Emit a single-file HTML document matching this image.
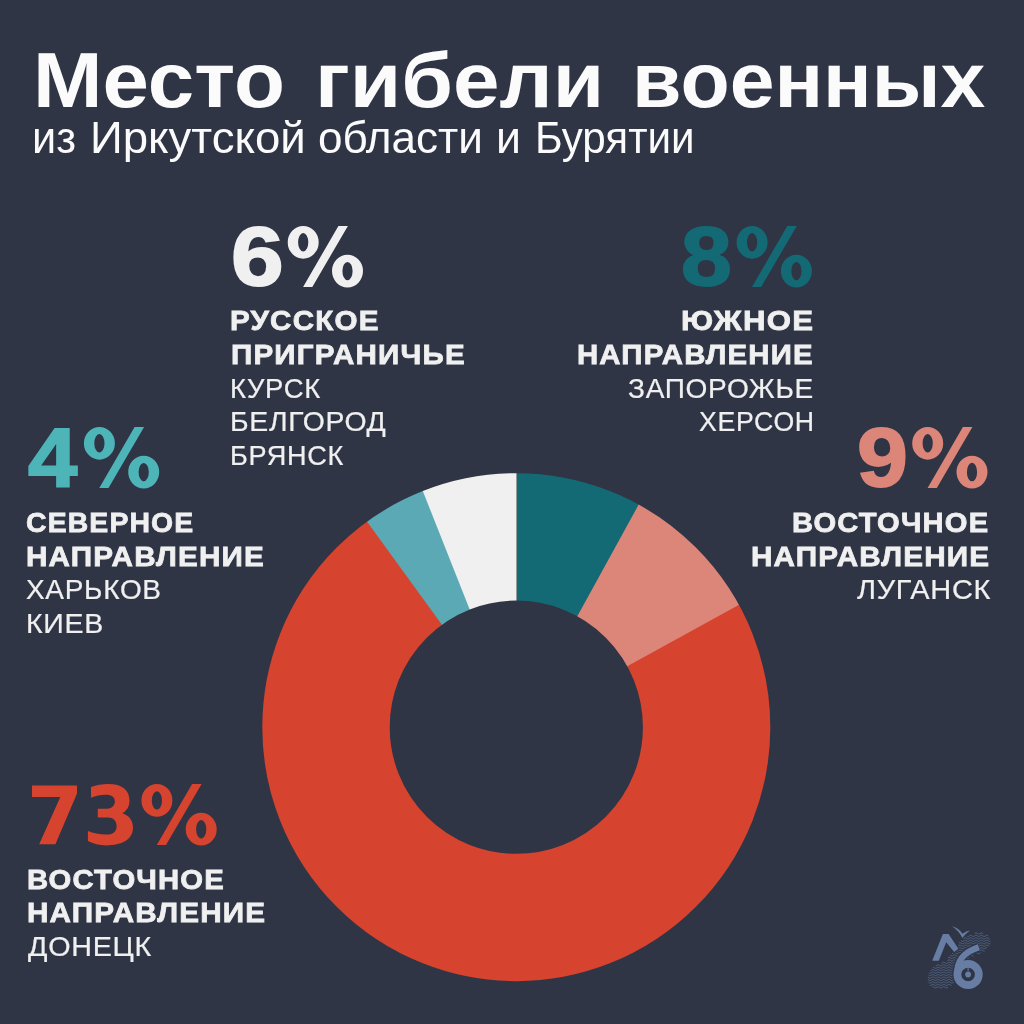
<!DOCTYPE html>
<html lang="ru"><head><meta charset="utf-8"><title>Место гибели военных</title>
<style>
html,body{margin:0;padding:0}
body{width:1024px;height:1024px;background:#2f3545;position:relative;overflow:hidden;font-family:"Liberation Sans",sans-serif}
.t{position:absolute;white-space:nowrap;line-height:1;transform-origin:0 0;font-family:"Liberation Sans",sans-serif}
.b{font-weight:700}.r{font-weight:400}
svg{position:absolute;left:0;top:0}
#txt{position:absolute;left:0;top:0;width:1024px;height:1024px;will-change:transform}
</style></head><body>
<svg width="1024" height="1024" viewBox="0 0 1024 1024">
<defs><mask id="ring" maskUnits="userSpaceOnUse" x="0" y="0" width="1024" height="1024"><circle cx="516.3" cy="727.2" r="190.3" fill="none" stroke="#fff" stroke-width="127.4"/></mask></defs>
<g mask="url(#ring)">
<circle cx="516.3" cy="727.2" r="260.0" fill="#136a75"/>
<path d="M516.3 727.2L641.56 499.36A260.0 260.0 0 1 1 516.30 467.20Z" fill="#dc8579"/>
<path d="M516.3 727.2L744.14 601.94A260.0 260.0 0 1 1 516.30 467.20Z" fill="#d6432e"/>
<path d="M516.3 727.2L363.48 516.86A260.0 260.0 0 0 1 516.30 467.20Z" fill="#5ba9b5"/>
<path d="M516.3 727.2L420.59 485.46A260.0 260.0 0 0 1 516.30 467.20Z" fill="#f0f0f0"/>
</g>
<path aria-label="7" d="M32 785.6H77V793.6L55.4 844.3H39.2L60.3 796.9H32Z" fill="#d6432e"/>
<path aria-label="3" d="M91 787.1C96 785 102 783.95 108.4 783.95C122 783.95 129.5 790 129.5 800.6C129.5 807 126.5 811 122.4 813.3C129 815.5 133 820.5 133 827.6C133 839 123 845.4 106 845.4C99.5 845.4 93 843.5 87.9 841L87.9 831.1C93 833.3 99.5 834.6 106 834.6C113 834.6 116.6 831.5 116.6 826.4C116.6 820.8 113 817.6 108.4 817.6L97.8 817.6L97.8 808.8L106 808.8C111.5 808.8 114.8 806 114.8 801.2C114.8 797 111.5 794.75 106 794.75C100.5 794.75 95.5 796 91 797.7Z" fill="#d6432e"/>
<path aria-label="%" d="M287.70 242.30A15.5 16.35 0 1 1 318.70 242.30A15.5 16.35 0 1 1 287.70 242.30ZM298.10 242.30A5.1 9.2 0 1 0 308.30 242.30A5.1 9.2 0 1 0 298.10 242.30ZM332.00 271.10A15.5 16.35 0 1 1 363.00 271.10A15.5 16.35 0 1 1 332.00 271.10ZM342.40 271.10A5.1 9.2 0 1 0 352.60 271.10A5.1 9.2 0 1 0 342.40 271.10ZM303.10 286.90L312.30 286.90L347.90 226.00L338.40 226.00Z" fill="#f0f0f0" fill-rule="evenodd"/>
<path aria-label="%" d="M736.60 242.30A15.5 16.35 0 1 1 767.60 242.30A15.5 16.35 0 1 1 736.60 242.30ZM747.00 242.30A5.1 9.2 0 1 0 757.20 242.30A5.1 9.2 0 1 0 747.00 242.30ZM780.90 271.10A15.5 16.35 0 1 1 811.90 271.10A15.5 16.35 0 1 1 780.90 271.10ZM791.30 271.10A5.1 9.2 0 1 0 801.50 271.10A5.1 9.2 0 1 0 791.30 271.10ZM752.00 286.90L761.20 286.90L796.80 226.00L787.30 226.00Z" fill="#136a75" fill-rule="evenodd"/>
<path aria-label="%" d="M83.90 443.30A15.5 16.35 0 1 1 114.90 443.30A15.5 16.35 0 1 1 83.90 443.30ZM94.30 443.30A5.1 9.2 0 1 0 104.50 443.30A5.1 9.2 0 1 0 94.30 443.30ZM128.20 472.10A15.5 16.35 0 1 1 159.20 472.10A15.5 16.35 0 1 1 128.20 472.10ZM138.60 472.10A5.1 9.2 0 1 0 148.80 472.10A5.1 9.2 0 1 0 138.60 472.10ZM99.30 487.90L108.50 487.90L144.10 427.00L134.60 427.00Z" fill="#4db4b8" fill-rule="evenodd"/>
<path aria-label="%" d="M912.20 443.30A15.5 16.35 0 1 1 943.20 443.30A15.5 16.35 0 1 1 912.20 443.30ZM922.60 443.30A5.1 9.2 0 1 0 932.80 443.30A5.1 9.2 0 1 0 922.60 443.30ZM956.50 472.10A15.5 16.35 0 1 1 987.50 472.10A15.5 16.35 0 1 1 956.50 472.10ZM966.90 472.10A5.1 9.2 0 1 0 977.10 472.10A5.1 9.2 0 1 0 966.90 472.10ZM927.60 487.90L936.80 487.90L972.40 427.00L962.90 427.00Z" fill="#dc8579" fill-rule="evenodd"/>
<path aria-label="%" d="M141.40 800.40A15.5 16.35 0 1 1 172.40 800.40A15.5 16.35 0 1 1 141.40 800.40ZM151.80 800.40A5.1 9.2 0 1 0 162.00 800.40A5.1 9.2 0 1 0 151.80 800.40ZM185.70 829.20A15.5 16.35 0 1 1 216.70 829.20A15.5 16.35 0 1 1 185.70 829.20ZM196.10 829.20A5.1 9.2 0 1 0 206.30 829.20A5.1 9.2 0 1 0 196.10 829.20ZM156.80 845.00L166.00 845.00L201.60 784.10L192.10 784.10Z" fill="#d6432e" fill-rule="evenodd"/>
<g id="logo">
<path d="M975.0 933.2L975.7 932.9L976.3 932.9L977.0 933.2L977.6 933.6L978.3 934.0L978.9 934.0L979.6 933.8L980.2 933.3L980.9 933.0L981.5 932.9L982.2 933.1L982.8 933.5M967.9 936.5L968.5 936.4L969.2 936.0L969.8 935.5L970.5 935.3L971.1 935.4L971.8 935.8L972.4 936.2L973.1 936.5L973.7 936.4L974.4 936.1L975.0 935.7L975.7 935.3L976.3 935.3L977.0 935.6L977.6 936.1L978.3 936.4L978.9 936.5L979.6 936.2L980.2 935.8L980.9 935.4L981.5 935.3L982.2 935.5L982.8 935.9L983.5 936.3L984.1 936.5L984.8 936.3L985.4 935.9L986.1 935.5L986.7 935.3L987.4 935.4L988.0 935.8M964.0 938.3L964.6 937.9L965.3 937.8L965.9 937.9L966.6 938.3L967.2 938.8L967.9 938.9L968.5 938.8L969.2 938.4L969.8 938.0L970.5 937.8L971.1 937.8L971.8 938.2L972.4 938.6L973.1 938.9L973.7 938.9L974.4 938.6L975.0 938.1L975.7 937.8L976.3 937.8L977.0 938.1L977.6 938.5L978.3 938.9L978.9 938.9L979.6 938.7L980.2 938.2L980.9 937.9L981.5 937.8L982.2 938.0L982.8 938.4L983.5 938.8L984.1 939.0L984.8 938.8L985.4 938.4L986.1 938.0L986.7 937.8L987.4 937.9L988.0 938.2L988.7 938.7L989.3 938.9M961.4 940.9L962.0 941.3L962.7 941.4L963.3 941.2L964.0 940.7L964.6 940.3L965.3 940.2L965.9 940.4L966.6 940.8L967.2 941.2L967.9 941.4L968.5 941.3L969.2 940.9L969.8 940.4L970.5 940.2L971.1 940.3L971.8 940.7L972.4 941.1L973.1 941.4L973.7 941.3L974.4 941.0L975.0 940.6L975.7 940.2L976.3 940.2L977.0 940.5L977.6 941.0L978.3 941.3L978.9 941.4L979.6 941.1L980.2 940.7L980.9 940.3L981.5 940.2L982.2 940.4L982.8 940.8L983.5 941.2L984.1 941.4L984.8 941.2L985.4 940.8L986.1 940.4L986.7 940.2L987.4 940.3L988.0 940.7L988.7 941.1L989.3 941.4L990.0 941.3M959.4 942.7L960.1 942.7L960.7 942.9L961.4 943.4L962.0 943.8L962.7 943.8L963.3 943.6L964.0 943.2L964.6 942.8L965.3 942.7L965.9 942.8L966.6 943.2L967.2 943.7L967.9 943.8L968.5 943.7L969.2 943.3L969.8 942.9L970.5 942.7L971.1 942.7L971.8 943.1L972.4 943.5L973.1 943.8L973.7 943.8L974.4 943.5L975.0 943.0L975.7 942.7L976.3 942.7L977.0 943.0L977.6 943.4L978.3 943.8L978.9 943.8L979.6 943.6L980.2 943.1L980.9 942.8L981.5 942.7L982.2 942.9L982.8 943.3L983.5 943.7L984.1 943.9L984.8 943.7L985.4 943.3L986.1 942.9L986.7 942.7L987.4 942.8L988.0 943.1L988.7 943.6L989.3 943.8L990.0 943.8M958.1 945.9L958.8 945.5L959.4 945.2L960.1 945.1L960.7 945.4L961.4 945.8L962.0 946.2L962.7 946.3L963.3 946.1L964.0 945.6L964.6 945.2L965.3 945.1L965.9 945.3L966.6 945.7L967.2 946.1L967.9 946.3L968.5 946.2L969.2 945.8L969.8 945.3L970.5 945.1L971.1 945.2L971.8 945.6L972.4 946.0L973.1 946.3L973.7 946.2L974.4 945.9L975.0 945.5L975.7 945.1L976.3 945.1L977.0 945.4L977.6 945.9L978.3 946.2L978.9 946.3L979.6 946.0L980.2 945.6L980.9 945.2L981.5 945.1L982.2 945.3L982.8 945.7L983.5 946.1L984.1 946.3L984.8 946.1L985.4 945.7L986.1 945.3L986.7 945.1L987.4 945.2L988.0 945.6L988.7 946.0M958.1 948.4L958.8 947.9L959.4 947.6L960.1 947.6L960.7 947.8L961.4 948.3L962.0 948.7L962.7 948.7L963.3 948.5L964.0 948.1L964.6 947.7L965.3 947.6L965.9 947.7L966.6 948.1L967.2 948.6L967.9 948.7L968.5 948.6L969.2 948.2L969.8 947.8L970.5 947.6L971.1 947.6L971.8 948.0L972.4 948.4L973.1 948.7L973.7 948.7L974.4 948.4L975.0 947.9L975.7 947.6L976.3 947.6L977.0 947.9L977.6 948.3L978.3 948.7L978.9 948.7L979.6 948.5L980.2 948.0L980.9 947.7L981.5 947.6L982.2 947.8L982.8 948.2L983.5 948.6L984.1 948.8L984.8 948.6L985.4 948.2L986.1 947.8L986.7 947.6M955.5 950.4L956.2 950.9L956.8 951.2L957.5 951.2L958.1 950.8L958.8 950.4L959.4 950.1L960.1 950.0L960.7 950.3L961.4 950.7L962.0 951.1L962.7 951.2L963.3 951.0L964.0 950.5L964.6 950.1L965.3 950.0L965.9 950.2L966.6 950.6L967.2 951.0L967.9 951.2L968.5 951.1L969.2 950.7L969.8 950.2L970.5 950.0L971.1 950.1L971.8 950.5L972.4 950.9L973.1 951.2L973.7 951.1L974.4 950.8L975.0 950.4L975.7 950.0L976.3 950.0L977.0 950.3L977.6 950.8L978.3 951.1L978.9 951.2L979.6 950.9L980.2 950.5L980.9 950.1L981.5 950.0L982.2 950.2L982.8 950.6L983.5 951.0L984.1 951.2M952.3 953.5L952.9 953.2L953.6 952.7L954.2 952.5L954.9 952.5L955.5 952.9L956.2 953.3L956.8 953.6L957.5 953.6L958.1 953.3L958.8 952.8L959.4 952.5L960.1 952.5L960.7 952.7L961.4 953.2L962.0 953.6L962.7 953.6L963.3 953.4L964.0 953.0L964.6 952.6L965.3 952.5L965.9 952.6L966.6 953.0L967.2 953.5L967.9 953.6L968.5 953.5L969.2 953.1L969.8 952.7L970.5 952.5L971.1 952.5L971.8 952.9L972.4 953.3L973.1 953.6L973.7 953.6L974.4 953.3L975.0 952.8L975.7 952.5L976.3 952.5L977.0 952.8L977.6 953.2L978.3 953.6L978.9 953.6L979.6 953.4L980.2 952.9M950.3 955.5L951.0 955.9L951.6 956.1L952.3 956.0L952.9 955.6L953.6 955.2L954.2 954.9L954.9 955.0L955.5 955.3L956.2 955.8L956.8 956.1L957.5 956.1L958.1 955.7L958.8 955.3L959.4 955.0L960.1 954.9L960.7 955.2L961.4 955.6L962.0 956.0L962.7 956.1L963.3 955.9L964.0 955.4L964.6 955.0L965.3 954.9L965.9 955.1L966.6 955.5L967.2 955.9L967.9 956.1L968.5 956.0L969.2 955.6L969.8 955.1L970.5 954.9L971.1 955.0L971.8 955.4L972.4 955.8L973.1 956.1M948.4 957.5L949.0 957.4L949.7 957.5L950.3 957.9L951.0 958.3L951.6 958.5L952.3 958.4L952.9 958.1L953.6 957.6L954.2 957.4L954.9 957.4L955.5 957.8L956.2 958.2L956.8 958.5L957.5 958.5L958.1 958.2L958.8 957.7L959.4 957.4L960.1 957.4L960.7 957.6L961.4 958.1L962.0 958.5L962.7 958.5L963.3 958.3L964.0 957.9L964.6 957.5L965.3 957.4L965.9 957.5L966.6 957.9L967.2 958.4L967.9 958.5L968.5 958.4L969.2 958.0M947.7 960.4L948.4 960.0L949.0 959.8L949.7 960.0L950.3 960.4L951.0 960.8L951.6 961.0L952.3 960.9L952.9 960.5L953.6 960.1L954.2 959.8L954.9 959.9L955.5 960.2L956.2 960.7L956.8 961.0L957.5 961.0L958.1 960.6L958.8 960.2L959.4 959.9L960.1 959.8L960.7 960.1L961.4 960.5L962.0 960.9L962.7 961.0L963.3 960.8L964.0 960.3L964.6 959.9L965.3 959.8L965.9 960.0L966.6 960.4L967.2 960.8L967.9 961.0M941.9 963.1L942.5 962.7L943.2 962.3L943.8 962.3L944.5 962.5L945.1 963.0L945.8 963.3L946.4 963.4L947.1 963.2L947.7 962.8L948.4 962.4L949.0 962.3L949.7 962.4L950.3 962.8L951.0 963.2L951.6 963.4L952.3 963.3L952.9 963.0L953.6 962.5L954.2 962.3L954.9 962.3L955.5 962.7L956.2 963.1L956.8 963.4L957.5 963.4L958.1 963.1L958.8 962.6L959.4 962.3L960.1 962.3L960.7 962.5L961.4 963.0L962.0 963.4L962.7 963.4L963.3 963.2L964.0 962.8L964.6 962.4L965.3 962.3L965.9 962.4L966.6 962.8M936.0 965.8L936.7 965.4L937.3 965.0L938.0 964.7L938.6 964.8L939.3 965.1L939.9 965.5L940.6 965.9L941.2 965.9L941.9 965.6L942.5 965.1L943.2 964.8L943.8 964.7L944.5 965.0L945.1 965.4L945.8 965.8L946.4 965.9L947.1 965.7L947.7 965.3L948.4 964.9L949.0 964.7L949.7 964.9L950.3 965.3L951.0 965.7L951.6 965.9L952.3 965.8L952.9 965.4L953.6 965.0L954.2 964.7L954.9 964.8L955.5 965.1L956.2 965.6L956.8 965.9L957.5 965.9L958.1 965.5L958.8 965.1L959.4 964.8L960.1 964.7L960.7 965.0L961.4 965.4L962.0 965.8L962.7 965.9L963.3 965.7L964.0 965.2L964.6 964.8L965.3 964.7M933.4 967.3L934.1 967.7L934.7 968.1L935.4 968.3L936.0 968.3L936.7 967.9L937.3 967.5L938.0 967.2L938.6 967.2L939.3 967.5L939.9 968.0L940.6 968.3L941.2 968.3L941.9 968.0L942.5 967.6L943.2 967.2L943.8 967.2L944.5 967.4L945.1 967.9L945.8 968.2L946.4 968.3L947.1 968.1L947.7 967.7L948.4 967.3L949.0 967.2L949.7 967.3L950.3 967.7L951.0 968.1L951.6 968.3L952.3 968.2L952.9 967.9L953.6 967.4L954.2 967.2L954.9 967.2L955.5 967.6L956.2 968.0L956.8 968.3L957.5 968.3L958.1 968.0L958.8 967.5L959.4 967.2L960.1 967.2L960.7 967.4L961.4 967.9L962.0 968.3L962.7 968.3M930.8 970.6L931.5 970.2L932.1 969.8L932.8 969.6L933.4 969.7L934.1 970.1L934.7 970.6L935.4 970.8L936.0 970.7L936.7 970.3L937.3 969.9L938.0 969.6L938.6 969.7L939.3 970.0L939.9 970.4L940.6 970.8L941.2 970.8L941.9 970.5L942.5 970.0L943.2 969.7L943.8 969.6L944.5 969.9L945.1 970.3L945.8 970.7L946.4 970.8L947.1 970.6L947.7 970.2L948.4 969.8L949.0 969.6L949.7 969.8L950.3 970.2L951.0 970.6L951.6 970.8L952.3 970.7L952.9 970.3L953.6 969.9L954.2 969.6L954.9 969.7L955.5 970.0L956.2 970.5L956.8 970.8L957.5 970.8L958.1 970.4L958.8 970.0M929.5 973.1L930.2 973.2L930.8 973.1L931.5 972.7L932.1 972.2L932.8 972.1L933.4 972.2L934.1 972.6L934.7 973.0L935.4 973.2L936.0 973.2L936.7 972.8L937.3 972.4L938.0 972.1L938.6 972.1L939.3 972.4L939.9 972.9L940.6 973.2L941.2 973.2L941.9 972.9L942.5 972.5L943.2 972.1L943.8 972.1L944.5 972.3L945.1 972.8L945.8 973.1L946.4 973.2L947.1 973.0L947.7 972.6L948.4 972.2L949.0 972.1L949.7 972.2L950.3 972.6L951.0 973.0L951.6 973.2L952.3 973.1L952.9 972.8L953.6 972.3L954.2 972.1L954.9 972.1L955.5 972.5L956.2 972.9L956.8 973.2M928.9 975.2L929.5 975.6L930.2 975.7L930.8 975.5L931.5 975.1L932.1 974.7L932.8 974.5L933.4 974.6L934.1 975.0L934.7 975.5L935.4 975.7L936.0 975.6L936.7 975.2L937.3 974.8L938.0 974.5L938.6 974.6L939.3 974.9L939.9 975.3L940.6 975.7L941.2 975.7L941.9 975.4L942.5 974.9L943.2 974.6L943.8 974.5L944.5 974.8L945.1 975.2L945.8 975.6L946.4 975.7L947.1 975.5L947.7 975.1L948.4 974.7L949.0 974.5L949.7 974.7L950.3 975.1L951.0 975.5L951.6 975.7L952.3 975.6L952.9 975.2L953.6 974.8L954.2 974.5L954.9 974.6L955.5 974.9L956.2 975.4L956.8 975.7M928.2 977.2L928.9 977.6L929.5 978.0L930.2 978.1L930.8 978.0L931.5 977.6L932.1 977.1L932.8 977.0L933.4 977.1L934.1 977.5L934.7 977.9L935.4 978.1L936.0 978.1L936.7 977.7L937.3 977.3L938.0 977.0L938.6 977.0L939.3 977.3L939.9 977.8L940.6 978.1L941.2 978.1L941.9 977.8L942.5 977.4L943.2 977.0L943.8 977.0L944.5 977.2L945.1 977.7L945.8 978.0L946.4 978.1L947.1 977.9L947.7 977.5L948.4 977.1L949.0 977.0L949.7 977.1L950.3 977.5L951.0 977.9L951.6 978.1L952.3 978.0L952.9 977.7L953.6 977.2L954.2 977.0L954.9 977.0L955.5 977.4L956.2 977.8M928.2 979.6L928.9 980.1L929.5 980.5L930.2 980.6L930.8 980.4L931.5 980.0L932.1 979.6L932.8 979.4L933.4 979.5L934.1 979.9L934.7 980.4L935.4 980.6L936.0 980.5L936.7 980.1L937.3 979.7L938.0 979.4L938.6 979.5L939.3 979.8L939.9 980.2L940.6 980.6L941.2 980.6L941.9 980.3L942.5 979.8L943.2 979.5L943.8 979.4L944.5 979.7L945.1 980.1L945.8 980.5L946.4 980.6L947.1 980.4L947.7 980.0L948.4 979.6L949.0 979.4L949.7 979.6L950.3 980.0L951.0 980.4L951.6 980.6L952.3 980.5L952.9 980.1L953.6 979.7L954.2 979.4L954.9 979.5M928.9 982.5L929.5 982.9L930.2 983.0L930.8 982.9L931.5 982.5L932.1 982.0L932.8 981.9L933.4 982.0L934.1 982.4L934.7 982.8L935.4 983.0L936.0 983.0L936.7 982.6L937.3 982.2L938.0 981.9L938.6 981.9L939.3 982.2L939.9 982.7L940.6 983.0L941.2 983.0L941.9 982.7L942.5 982.3L943.2 981.9L943.8 981.9L944.5 982.1L945.1 982.6L945.8 982.9L946.4 983.0L947.1 982.8L947.7 982.4L948.4 982.0L949.0 981.9L949.7 982.0L950.3 982.4L951.0 982.8L951.6 983.0L952.3 982.9L952.9 982.6L953.6 982.1M930.2 985.5L930.8 985.3L931.5 984.9L932.1 984.5L932.8 984.3L933.4 984.4L934.1 984.8L934.7 985.3L935.4 985.5L936.0 985.4L936.7 985.0L937.3 984.6L938.0 984.3L938.6 984.4L939.3 984.7L939.9 985.1L940.6 985.5L941.2 985.5L941.9 985.2L942.5 984.7L943.2 984.4L943.8 984.3L944.5 984.6L945.1 985.0L945.8 985.4L946.4 985.5L947.1 985.3L947.7 984.9L948.4 984.5L949.0 984.3L949.7 984.5L950.3 984.9L951.0 985.3M932.8 986.8L933.4 986.9L934.1 987.3L934.7 987.7L935.4 987.9L936.0 987.9L936.7 987.5L937.3 987.1L938.0 986.8L938.6 986.8L939.3 987.1L939.9 987.6L940.6 987.9L941.2 987.9L941.9 987.6L942.5 987.2L943.2 986.8L943.8 986.8L944.5 987.0L945.1 987.5L945.8 987.8L946.4 987.9L947.1 987.7L947.7 987.3" fill="none" stroke="#566888" stroke-width="0.9" stroke-linecap="round" stroke-linejoin="round"/>
<path d="M932.2 960.7L942.9 933.9L948.6 933.9L958.4 948.8L954.2 952L946.2 942.2L938.8 960.7Z" fill="#2f3545" stroke="#2f3545" stroke-width="2.4" stroke-linejoin="round"/>
<path d="M957.3 975C956.6 962 962 952.5 978.8 947.2" fill="none" stroke="#2f3545" stroke-width="9"/>
<circle cx="968.1" cy="974.5" r="10.7" fill="#2f3545" stroke="#2f3545" stroke-width="10.2"/>
<path d="M932.2 960.7L942.9 933.9L948.6 933.9L958.4 948.8L954.2 952L946.2 942.2L938.8 960.7Z" fill="#687da4"/>
<path d="M957.3 975C956.6 962 962 952.5 978.8 947.2" fill="none" stroke="#687da4" stroke-width="6.4"/>
<circle cx="968.1" cy="974.5" r="10.7" fill="none" stroke="#687da4" stroke-width="7.8"/>
<circle cx="968.1" cy="974.5" r="2.9" fill="#687da4"/>
<path d="M968.1 967.7v3.5" stroke="#687da4" stroke-width="1" fill="none"/>
<path d="M952 926.2C957 927.6 960.4 930.6 962.6 933.8C964.6 932 967 930.8 970.2 930.4C967.2 932.4 964.8 934.8 962.4 938C960 933 956.8 929.4 952 926.2Z" fill="#687da4"/>
</g>
</svg>
<div id="txt">
<div class="t b" style="left:33.33px;top:41.37px;font-size:78.26px;color:#fbfbfc;transform:scaleX(1.0663)">Место</div>
<div class="t b" style="left:314.64px;top:41.37px;font-size:78.26px;color:#fbfbfc;transform:scaleX(1.0696)">гибели</div>
<div class="t b" style="left:632.11px;top:41.37px;font-size:78.26px;color:#fbfbfc;transform:scaleX(1.0292)">военных</div>
<div class="t r" style="left:32.47px;top:114.79px;font-size:45.22px;color:#fbfbfc;transform:scaleX(0.9575)">из</div>
<div class="t r" style="left:90.35px;top:114.79px;font-size:45.22px;color:#fbfbfc;transform:scaleX(1.0081)">Иркутской</div>
<div class="t r" style="left:318.24px;top:114.79px;font-size:45.22px;color:#fbfbfc;transform:scaleX(0.9748)">области</div>
<div class="t r" style="left:496.12px;top:114.79px;font-size:45.22px;color:#fbfbfc;transform:scaleX(0.9873)">и</div>
<div class="t r" style="left:534.63px;top:114.79px;font-size:45.22px;color:#fbfbfc;transform:scaleX(0.9324)">Бурятии</div>
<div class="t b" style="left:230.83px;top:213.65px;font-size:84.15px;color:#f0f0f0;transform:scaleX(1.1248);-webkit-text-stroke:0.022em #f0f0f0">6</div>
<div class="t b" style="left:229.87px;top:307.46px;font-size:27.08px;color:#f0f0f0;transform:scaleX(1.0924);-webkit-text-stroke:0.028em #f0f0f0;letter-spacing:0.04em">РУССКОЕ</div>
<div class="t b" style="left:230.87px;top:341.11px;font-size:27.08px;color:#f0f0f0;transform:scaleX(1.0919);-webkit-text-stroke:0.028em #f0f0f0;letter-spacing:0.04em">ПРИГРАНИЧЬЕ</div>
<div class="t r" style="left:229.81px;top:374.82px;font-size:27.86px;color:#f0f0f0;transform:scaleX(0.9841);-webkit-text-stroke:0.008em #f0f0f0;letter-spacing:0.025em">КУРСК</div>
<div class="t r" style="left:229.73px;top:408.32px;font-size:27.86px;color:#f0f0f0;transform:scaleX(1.0171);-webkit-text-stroke:0.008em #f0f0f0;letter-spacing:0.025em">БЕЛГОРОД</div>
<div class="t r" style="left:229.83px;top:441.82px;font-size:27.86px;color:#f0f0f0;transform:scaleX(0.973);-webkit-text-stroke:0.008em #f0f0f0;letter-spacing:0.025em">БРЯНСК</div>
<div class="t b" style="left:681.17px;top:213.65px;font-size:84.15px;color:#136a75;transform:scaleX(1.0845);-webkit-text-stroke:0.022em #136a75">8</div>
<div class="t b" style="left:680.79px;top:307.46px;font-size:27.08px;color:#f0f0f0;transform:scaleX(1.1508);-webkit-text-stroke:0.028em #f0f0f0;letter-spacing:0.04em">ЮЖНОЕ</div>
<div class="t b" style="left:577.14px;top:341.11px;font-size:27.08px;color:#f0f0f0;transform:scaleX(1.084);-webkit-text-stroke:0.028em #f0f0f0;letter-spacing:0.04em">НАПРАВЛЕНИЕ</div>
<div class="t r" style="left:627.91px;top:374.82px;font-size:27.86px;color:#f0f0f0;transform:scaleX(1.0066);-webkit-text-stroke:0.008em #f0f0f0;letter-spacing:0.025em">ЗАПОРОЖЬЕ</div>
<div class="t r" style="left:699.1px;top:408.32px;font-size:27.86px;color:#f0f0f0;transform:scaleX(0.957);-webkit-text-stroke:0.008em #f0f0f0;letter-spacing:0.025em">ХЕРСОН</div>
<div class="t b" style="left:27.56px;top:415.55px;font-size:84.15px;color:#4db4b8;transform:scaleX(1.0545);-webkit-text-stroke:0.022em #4db4b8">4</div>
<div class="t b" style="left:25.79px;top:509.11px;font-size:27.08px;color:#f0f0f0;transform:scaleX(1.0479);-webkit-text-stroke:0.028em #f0f0f0;letter-spacing:0.04em">СЕВЕРНОЕ</div>
<div class="t b" style="left:26.37px;top:542.61px;font-size:27.08px;color:#f0f0f0;transform:scaleX(1.0944);-webkit-text-stroke:0.028em #f0f0f0;letter-spacing:0.04em">НАПРАВЛЕНИЕ</div>
<div class="t r" style="left:26.08px;top:576.32px;font-size:27.86px;color:#f0f0f0;transform:scaleX(1.0049);-webkit-text-stroke:0.008em #f0f0f0;letter-spacing:0.025em">ХАРЬКОВ</div>
<div class="t r" style="left:25.72px;top:609.92px;font-size:27.86px;color:#f0f0f0;transform:scaleX(1.0227);-webkit-text-stroke:0.008em #f0f0f0;letter-spacing:0.025em">КИЕВ</div>
<div class="t b" style="left:856.71px;top:414.65px;font-size:84.15px;color:#dc8579;transform:scaleX(1.0883);-webkit-text-stroke:0.022em #dc8579">9</div>
<div class="t b" style="left:792.4px;top:509.11px;font-size:27.08px;color:#f0f0f0;transform:scaleX(1.0766);-webkit-text-stroke:0.028em #f0f0f0;letter-spacing:0.04em">ВОСТОЧНОЕ</div>
<div class="t b" style="left:751.12px;top:542.61px;font-size:27.08px;color:#f0f0f0;transform:scaleX(1.0956);-webkit-text-stroke:0.028em #f0f0f0;letter-spacing:0.04em">НАПРАВЛЕНИЕ</div>
<div class="t r" style="left:856.86px;top:576.32px;font-size:27.86px;color:#f0f0f0;transform:scaleX(1.0387);-webkit-text-stroke:0.008em #f0f0f0;letter-spacing:0.025em">ЛУГАНСК</div>
<div class="t b" style="left:27.39px;top:866.21px;font-size:27.08px;color:#f0f0f0;transform:scaleX(1.0807);-webkit-text-stroke:0.028em #f0f0f0;letter-spacing:0.04em">ВОСТОЧНОЕ</div>
<div class="t b" style="left:27.37px;top:898.91px;font-size:27.08px;color:#f0f0f0;transform:scaleX(1.0956);-webkit-text-stroke:0.028em #f0f0f0;letter-spacing:0.04em">НАПРАВЛЕНИЕ</div>
<div class="t r" style="left:27.86px;top:932.57px;font-size:27.86px;color:#f0f0f0;transform:scaleX(1.0304);-webkit-text-stroke:0.008em #f0f0f0;letter-spacing:0.025em">ДОНЕЦК</div>
</div>
</body></html>
